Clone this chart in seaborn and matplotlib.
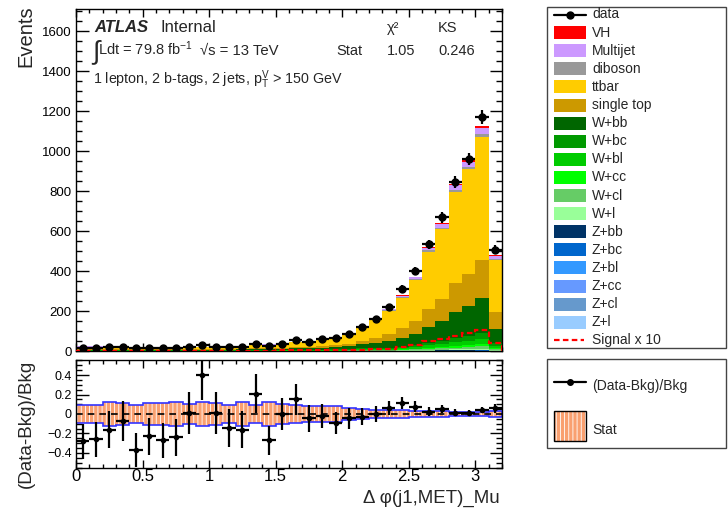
import numpy as np
import pandas as pd
import matplotlib
matplotlib.use("Agg")
import matplotlib.pyplot as plt
import seaborn as sns
from matplotlib.patches import Rectangle
from matplotlib.lines import Line2D
from matplotlib.ticker import MultipleLocator, FuncFormatter

# ---------------- data ----------------
bin_edges = [round(v, 1) for v in np.linspace(0.0, 3.2, 33)]

data_events = [17, 17, 18, 20, 14, 17, 16, 17, 22, 29, 22, 20, 20, 36, 25, 37,
               54, 47, 61, 66, 84, 119, 162, 222, 310, 398, 533, 668, 845, 959, 1169, 506]

ratio_vals = [-0.28, -0.26, -0.16, -0.07, -0.37, -0.23, -0.27, -0.24, 0.01, 0.40, 0.01,
              -0.14, -0.16, 0.21, -0.27, 0.00, 0.15, -0.045, -0.02, -0.09, -0.045, -0.027,
              0.0, 0.058, 0.116, 0.075, 0.024, 0.048, 0.013, 0.007, 0.04, 0.058]

stat_err = [0.09, 0.09, 0.12, 0.11, 0.09, 0.11, 0.11, 0.12, 0.10, 0.12, 0.11, 0.09, 0.12,
            0.09, 0.125, 0.10, 0.09, 0.085, 0.077, 0.077, 0.058, 0.05, 0.046, 0.04, 0.04,
            0.034, 0.032, 0.027, 0.025, 0.02, 0.02, 0.03]

vh = [0.1, 0.1, 0.1, 0.1, 0.1, 0.1, 0.1, 0.1, 0.1, 0.1, 0.1, 0.1, 0.1, 0.2, 0.2, 0.3,
      0.3, 0.3, 0.4, 0.4, 0.5, 0.6, 0.8, 1.2, 2.0, 2.8, 4.8, 5.8, 7.5, 9.2, 10.3, 4.2]
multijet = [1.2, 1.2, 1.1, 1.1, 1.1, 1.1, 1.1, 1.1, 1.1, 1.0, 1.1, 1.2, 1.2, 1.5, 1.7, 1.8,
            1.6, 1.7, 2.2, 2.6, 3.1, 4.3, 4.4, 5.7, 7.5, 10.0, 14.0, 17.2, 22.5, 25.7, 30.3, 12.9]
diboson = [0.3, 0.3, 0.3, 0.3, 0.3, 0.3, 0.3, 0.3, 0.3, 0.3, 0.3, 0.3, 0.3, 0.45, 0.5, 0.55,
           0.6, 0.6, 0.8, 0.9, 1.1, 1.6, 1.9, 2.5, 3.3, 4.4, 6.2, 7.6, 10.0, 11.4, 13.5, 5.7]
ttbar = [11.0, 11.0, 10.6, 10.6, 10.6, 10.6, 10.6, 10.6, 10.6, 10.1, 10.6, 11.0, 11.5, 14.4,
         16.3, 17.8, 24.4, 25.5, 32.2, 38.0, 45.8, 63.4, 89.0, 115.5, 153.0, 203.5, 286.0,
         350.0, 459.0, 524.0, 615.0, 263.0]
single_top = [3.0, 3.0, 2.9, 2.9, 2.9, 2.9, 2.9, 2.9, 2.9, 2.7, 2.9, 3.0, 3.1, 3.9, 4.4, 4.8,
              7.0, 7.4, 9.3, 11.0, 13.2, 18.3, 27.5, 35.7, 47.3, 62.9, 88.4, 108.0, 142.0,
              162.0, 191.0, 81.0]
w_bb = [3.7, 3.7, 3.5, 3.5, 3.5, 3.5, 3.5, 3.5, 3.5, 3.4, 3.5, 3.7, 3.8, 4.8, 5.4, 5.9,
        7.4, 7.7, 9.7, 11.5, 13.8, 19.2, 25.1, 32.6, 43.1, 57.4, 80.6, 98.7, 129.0, 148.0, 174.0, 74.0]
w_bc = [0.9, 0.9, 0.9, 0.9, 0.9, 0.9, 0.9, 0.9, 0.9, 0.8, 0.9, 0.9, 1.0, 1.2, 1.4, 1.5,
        1.6, 1.6, 2.0, 2.4, 2.9, 4.0, 4.4, 5.7, 7.5, 10.0, 14.0, 17.2, 22.5, 25.7, 30.3, 12.9]
w_bl = [0.9, 0.9, 0.9, 0.9, 0.9, 0.9, 0.9, 0.9, 0.9, 0.8, 0.9, 0.9, 1.0, 1.2, 1.4, 1.5,
        1.4, 1.5, 1.9, 2.2, 2.6, 3.7, 3.7, 4.8, 6.4, 8.5, 12.0, 14.7, 19.2, 21.9, 25.9, 11.0]
w_cc = [0.5, 0.5, 0.4, 0.4, 0.4, 0.4, 0.4, 0.4, 0.4, 0.4, 0.4, 0.5, 0.5, 0.6, 0.7, 0.7,
        0.7, 0.7, 0.9, 1.0, 1.2, 1.7, 1.6, 2.1, 2.8, 3.7, 5.2, 6.4, 8.3, 9.5, 11.2, 4.8]
w_cl = [0.7, 0.7, 0.7, 0.7, 0.7, 0.7, 0.7, 0.7, 0.7, 0.6, 0.7, 0.7, 0.7, 0.9, 1.0, 1.1,
        0.8, 0.9, 1.1, 1.3, 1.6, 2.2, 1.8, 2.3, 3.1, 4.1, 5.7, 7.0, 9.2, 10.5, 12.4, 5.3]
w_l = [0.3, 0.3, 0.3, 0.3, 0.3, 0.3, 0.3, 0.3, 0.3, 0.25, 0.3, 0.3, 0.3, 0.4, 0.4, 0.4,
       0.4, 0.4, 0.5, 0.6, 0.7, 1.0, 0.7, 0.9, 1.3, 1.7, 2.3, 2.9, 3.8, 4.3, 5.1, 2.2]
z_bb = [0.09, 0.09, 0.09, 0.09, 0.09, 0.09, 0.09, 0.09, 0.09, 0.09, 0.09, 0.09, 0.09, 0.12,
        0.14, 0.15, 0.14, 0.15, 0.19, 0.22, 0.26, 0.37, 0.32, 0.42, 0.56, 0.74, 1.04, 1.27,
        1.67, 1.9, 2.25, 0.96]
z_bc = [0.02, 0.02, 0.02, 0.02, 0.02, 0.02, 0.02, 0.02, 0.02, 0.02, 0.02, 0.02, 0.02, 0.03,
        0.03, 0.04, 0.03, 0.03, 0.04, 0.05, 0.06, 0.09, 0.08, 0.1, 0.14, 0.19, 0.26, 0.32,
        0.42, 0.48, 0.56, 0.24]
z_bl = [0.04, 0.04, 0.04, 0.04, 0.04, 0.04, 0.04, 0.04, 0.04, 0.04, 0.04, 0.04, 0.04, 0.06,
        0.07, 0.07, 0.07, 0.07, 0.09, 0.11, 0.13, 0.18, 0.16, 0.21, 0.28, 0.37, 0.52, 0.64,
        0.83, 0.95, 1.12, 0.48]
z_cc = [0.02, 0.02, 0.02, 0.02, 0.02, 0.02, 0.02, 0.02, 0.02, 0.02, 0.02, 0.02, 0.02, 0.03,
        0.03, 0.04, 0.03, 0.03, 0.04, 0.04, 0.05, 0.07, 0.06, 0.08, 0.11, 0.15, 0.21, 0.25,
        0.33, 0.38, 0.45, 0.19]
z_cl = [0.02, 0.02, 0.02, 0.02, 0.02, 0.02, 0.02, 0.02, 0.02, 0.02, 0.02, 0.02, 0.02, 0.03,
        0.03, 0.04, 0.03, 0.03, 0.04, 0.04, 0.05, 0.07, 0.06, 0.08, 0.11, 0.15, 0.21, 0.25,
        0.33, 0.38, 0.45, 0.19]
z_l = [0.02, 0.02, 0.02, 0.02, 0.02, 0.02, 0.02, 0.02, 0.02, 0.02, 0.02, 0.02, 0.02, 0.03,
       0.03, 0.04, 0.02, 0.02, 0.03, 0.04, 0.04, 0.06, 0.05, 0.06, 0.08, 0.11, 0.16, 0.19,
       0.25, 0.29, 0.34, 0.14]

process_names = ["VH", "Multijet", "diboson", "ttbar", "single top", "W+bb", "W+bc", "W+bl",
                 "W+cc", "W+cl", "W+l", "Z+bb", "Z+bc", "Z+bl", "Z+cc", "Z+cl", "Z+l"]
process_values = [vh, multijet, diboson, ttbar, single_top, w_bb, w_bc, w_bl, w_cc, w_cl,
                  w_l, z_bb, z_bc, z_bl, z_cc, z_cl, z_l]
process_colors = ["#FF0000", "#CC99FF", "#999999", "#FFCC00", "#CC9900", "#006600", "#009900",
                  "#00CC00", "#00FF00", "#66CC66", "#99FF99", "#003366", "#0066CC", "#3399FF",
                  "#6699FF", "#6699CC", "#99CCFF"]

# ---------------- style ----------------
sns.set_theme(style="ticks")
plt.rcParams["font.family"] = ["Liberation Sans", "DejaVu Sans"]
plt.rcParams["mathtext.fontset"] = "custom"
plt.rcParams["mathtext.rm"] = "Liberation Sans"
plt.rcParams["mathtext.it"] = "Liberation Sans:italic"
plt.rcParams["mathtext.bf"] = "Liberation Sans:bold"
plt.rcParams["hatch.linewidth"] = 0.6
plt.rcParams["axes.linewidth"] = 1.0
plt.rcParams["axes.unicode_minus"] = True

W, H = 728, 512
fig = plt.figure(figsize=(W / 100, H / 100), dpi=100)
ax1 = fig.add_axes([76 / W, 1 - 351 / H, 426 / W, 342 / H])
ax2 = fig.add_axes([76 / W, 1 - 468 / H, 426 / W, 108 / H])

edges = np.asarray(bin_edges, dtype=float)
centers = 0.5 * (edges[:-1] + edges[1:])
half_w = 0.5 * (edges[1:] - edges[:-1])

# ---------------- stacked histogram via seaborn ----------------
rows = []
for name, vals in zip(process_names, process_values):
    for c, v in zip(centers, vals):
        rows.append((float(c), float(v), name))
df = pd.DataFrame(rows, columns=["dphi", "events", "process"])
palette = dict(zip(process_names, process_colors))
sns.histplot(data=df, x="dphi", weights="events", hue="process", hue_order=process_names,
             palette=palette, multiple="stack", bins=list(bin_edges), element="bars", fill=True,
             alpha=1.0, linewidth=0, edgecolor="none", legend=False, ax=ax1, zorder=1)

# signal x 10
signal = np.asarray(vh) * 10
ax1.stairs(signal, edges, color="#FF0000", linestyle=(0, (2.5, 1.5)), linewidth=1.6, zorder=3)

# data
d = np.asarray(data_events, dtype=float)
ax1.errorbar(centers, d, xerr=half_w, yerr=np.sqrt(d), fmt="o", color="black",
             markersize=5, elinewidth=1.6, capsize=0, zorder=5)

ax1.set_xlim(0, 3.2)
ax1.set_ylim(0, 1710)
ax1.set_xlabel("")
ax1.set_ylabel("")
ax1.xaxis.set_major_locator(MultipleLocator(0.5))
ax1.xaxis.set_minor_locator(MultipleLocator(0.1))
ax1.yaxis.set_major_locator(MultipleLocator(200))
ax1.yaxis.set_minor_locator(MultipleLocator(50))
ax1.tick_params(axis="both", which="both", direction="in", top=True, right=True,
                labelbottom=False, colors="black")
ax1.tick_params(axis="y", which="major", length=9, width=1, labelsize=9.5, pad=3)
ax1.tick_params(axis="y", which="minor", length=4.5, width=1)
ax1.tick_params(axis="x", which="major", length=6, width=1)
ax1.tick_params(axis="x", which="minor", length=3, width=1)
for s in ax1.spines.values():
    s.set_color("black")

# ---------------- ratio panel ----------------
bkg = np.sum(np.asarray(process_values), axis=0)
r = np.asarray(ratio_vals)
rerr = np.sqrt(d) / bkg
se = np.asarray(stat_err)

ax2.stairs(se, edges, baseline=-se, fill=True, facecolor="#F9A070", edgecolor="white",
           hatch="||||", linewidth=0, zorder=1)
ax2.stairs(se, edges, color="#3333FF", linewidth=1.2, zorder=2)
ax2.stairs(-se, edges, color="#3333FF", linewidth=1.2, zorder=2)
ax2.axhline(0, color="black", linestyle=(0, (4, 3)), linewidth=1.2, zorder=3)
ax2.errorbar(centers, r, xerr=half_w, yerr=rerr, fmt="o", color="black", markersize=3,
             elinewidth=1.6, capsize=0, zorder=5)

ax2.set_xlim(0, 3.2)
ax2.set_ylim(-0.554, 0.554)
ax2.xaxis.set_major_locator(MultipleLocator(0.5))
ax2.xaxis.set_minor_locator(MultipleLocator(0.1))
ax2.yaxis.set_major_locator(MultipleLocator(0.2))
ax2.yaxis.set_minor_locator(MultipleLocator(0.05))
fmt = FuncFormatter(lambda v, p: ("%g" % round(v, 6)).replace("-", "\u2212"))
ax2.xaxis.set_major_formatter(fmt)
ax2.yaxis.set_major_formatter(fmt)
ax2.tick_params(axis="both", which="both", direction="in", top=True, right=True, colors="black")
ax2.tick_params(axis="y", which="major", length=9, width=1, labelsize=9, pad=3)
ax2.tick_params(axis="y", which="minor", length=4.5, width=1)
ax2.tick_params(axis="x", which="major", length=6, width=1, labelsize=12, pad=1)
ax2.tick_params(axis="x", which="minor", length=3, width=1)
ax2.set_xlabel("")
ax2.set_ylabel("")
for s in ax2.spines.values():
    s.set_color("black")


def ftext(x, y, s, **kw):
    return fig.text(x / W, 1 - y / H, s, **kw)


# axis titles
ftext(26, 5, "Events", rotation=90, ha="center", va="top", fontsize=14.5)
ftext(26, 488, "(Data-Bkg)/Bkg", rotation=90, ha="center", va="bottom", fontsize=13.5)
ftext(500, 503, "\u0394 \u03c6(j1,MET)_Mu", ha="right", va="baseline", fontsize=13.5)

# annotations in the main panel
ftext(94, 32, "ATLAS", fontsize=12, fontweight="bold", fontstyle="italic", va="baseline")
ftext(161, 32, "Internal", fontsize=12, va="baseline")
ftext(92, 52, "\u222b", fontsize=19, va="center", ha="left")
ftext(98, 55, "Ldt = 79.8 fb$^{-1}$", fontsize=10.5, va="baseline")
ftext(200, 55, "\u221as = 13 TeV", fontsize=10.7, va="baseline")
ftext(93, 84, "1 lepton, 2 b-tags, 2 jets, $\\mathrm{p}_{\\mathrm{T}}^{\\mathrm{V}}$ > 150 GeV",
      fontsize=10.3, va="baseline")
ftext(387, 32, "\u03c7\u00b2", fontsize=10.5, va="baseline")
ftext(438, 32, "KS", fontsize=10.5, va="baseline")
ftext(336, 55, "Stat", fontsize=10.5, va="baseline")
ftext(387, 55, "1.05", fontsize=10.5, va="baseline")
ftext(438, 55, "0.246", fontsize=10.5, va="baseline")

# ---------------- legends (drawn in figure pixel space) ----------------
def frect(x0, y0, x1, y1, **kw):
    fig.add_artist(Rectangle((x0 / W, 1 - y1 / H), (x1 - x0) / W, (y1 - y0) / H,
                             transform=fig.transFigure, **kw))


def fline(x0, x1, y, **kw):
    fig.add_artist(Line2D([x0 / W, x1 / W], [1 - y / H, 1 - y / H],
                          transform=fig.transFigure, **kw))


frect(547, 7, 726, 348, facecolor="white", edgecolor="#444444", linewidth=1.0)
row0, dy = 14.5, 18.1
fline(554, 586, row0, color="black", linewidth=1.6)
fig.add_artist(Line2D([570 / W], [1 - row0 / H], marker="o", markersize=5, color="black",
                      transform=fig.transFigure))
ftext(592, row0, "data", fontsize=10, va="center")
for i, (name, col) in enumerate(zip(process_names, process_colors)):
    yc = row0 + dy * (i + 1)
    frect(554, yc - 6.5, 586, yc + 6.5, facecolor=col, edgecolor="none")
    ftext(592, yc, name, fontsize=10, va="center")
ys = row0 + dy * 18
fline(554, 584, ys, color="#FF0000", linewidth=1.6, linestyle=(0, (2.5, 1.5)))
ftext(592, ys, "Signal x 10", fontsize=10, va="center")

frect(547, 359, 726, 448, facecolor="white", edgecolor="#444444", linewidth=1.0)
fline(554, 586, 382, color="black", linewidth=1.6)
fig.add_artist(Line2D([570 / W], [1 - 382 / H], marker="o", markersize=4, color="black",
                      transform=fig.transFigure))
ftext(592, 386, "(Data-Bkg)/Bkg", fontsize=10, va="center")
frect(554, 411, 586, 441, facecolor="#F9A070", edgecolor="white", hatch="||||", linewidth=0)
frect(554, 411, 586, 441, facecolor="none", edgecolor="black", linewidth=1.0)
ftext(592, 430, "Stat", fontsize=10, va="center")

fig.savefig("out.png", dpi=100)
